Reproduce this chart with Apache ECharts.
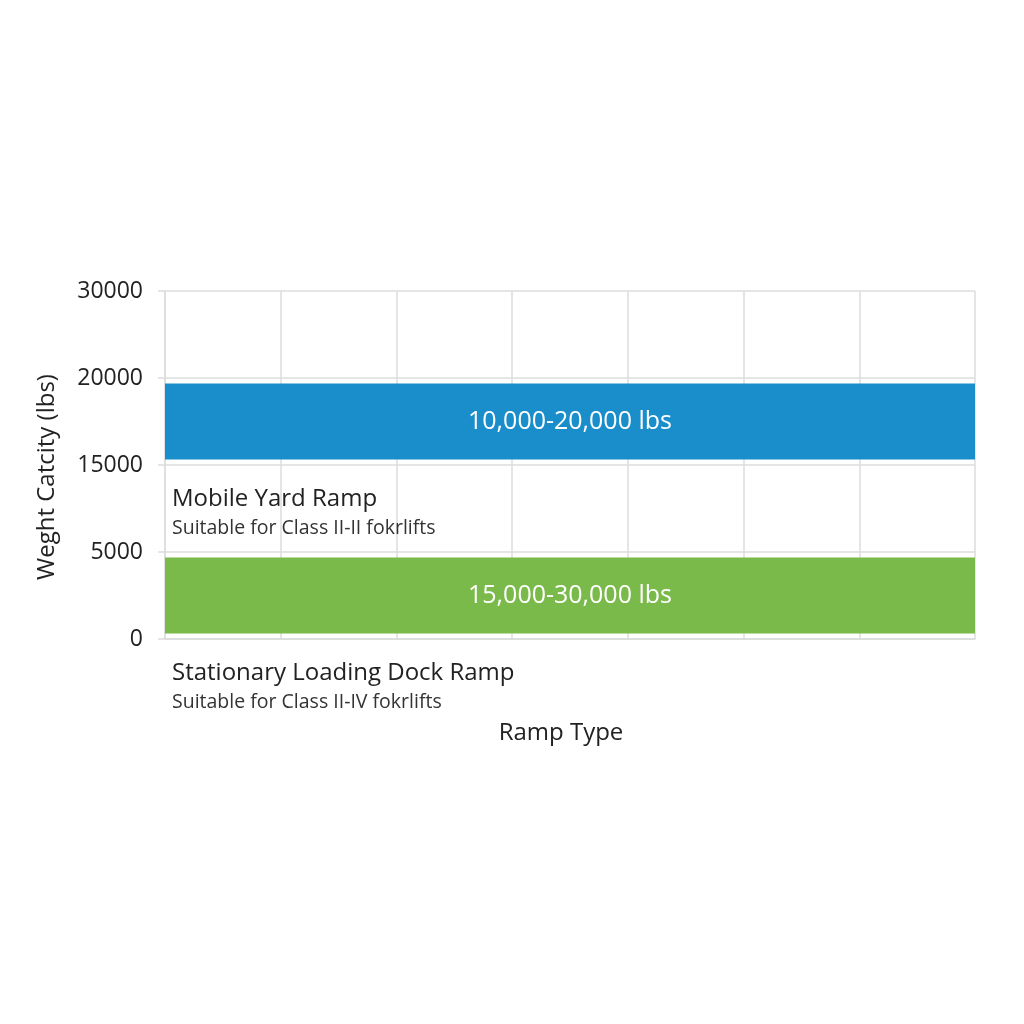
<!DOCTYPE html>
<html>
<head>
<meta charset="utf-8">
<script src="https://cdn.jsdelivr.net/npm/echarts@6/dist/echarts.min.js"></script>
<style>
  html, body { margin: 0; padding: 0; background: #fff; }
  #main { width: 1024px; height: 1024px; }
</style>
</head>
<body>
<div id="main"></div>
<script>
// tick labels on the weight axis (evenly spaced, as drawn)
var tickLabels = ['0', '5000', '15000', '20000', '30000'];
// bands between the ticks, bars sit in some of them
var bands = ['b0', 'b1', 'b2', 'b3'];

var ramps = ['Stationary Loading Dock Ramp', 'Mobile Yard Ramp'];
var rampNotes = ['Suitable for Class II-IV fokrlifts', 'Suitable for Class II-II fokrlifts'];
var capacityText = ['15,000-30,000 lbs', '10,000-20,000 lbs'];
var rampBand = [0, 2];
var barSpan = [7, 7];
var barColors = ['#7aba4a', '#1a8dcb'];

var textColor = '#222';
var gridColor = '#dcdcdc';
var fontFamily = '"Open Sans", "Noto Sans", sans-serif';

var barData = [];
var labelData = [];
for (var i = 0; i < bands.length; i++) {
    barData.push('-');
    labelData.push('-');
}
for (var j = 0; j < ramps.length; j++) {
    var b = rampBand[j];
    barData[b] = {
        value: barSpan[j],
        itemStyle: { color: barColors[j] },
        label: { formatter: capacityText[j] }
    };
    labelData[b] = {
        value: barSpan[j],
        label: { formatter: '{t|' + ramps[j] + '}\n{s|' + rampNotes[j] + '}' }
    };
}

var myChart = echarts.init(document.getElementById('main'));
var option = {
    backgroundColor: '#fff',
    textStyle: { fontFamily: fontFamily },
    grid: { left: 165, right: 49, top: 291, bottom: 385 },
    xAxis: {
        type: 'value',
        min: 0,
        max: 7,
        interval: 1,
        name: 'Ramp Type',
        nameLocation: 'middle',
        nameGap: 82,
        nameTextStyle: { fontSize: 24, color: textColor, fontFamily: fontFamily, padding: [0, 18, 0, 0] },
        axisLabel: { show: false },
        axisTick: { show: false },
        axisLine: { show: true, lineStyle: { color: gridColor, width: 1.5 } },
        splitLine: { show: true, lineStyle: { color: gridColor, width: 1.5 } }
    },
    yAxis: [{
        type: 'category',
        boundaryGap: false,
        data: tickLabels,
        name: 'Weght Catcity (lbs)',
        nameLocation: 'middle',
        nameGap: 106,
        nameTextStyle: { fontSize: 24, color: textColor, fontFamily: fontFamily, padding: [0, 24, 0, 0] },
        axisLabel: { fontSize: 23, color: textColor, margin: 22, fontFamily: fontFamily },
        axisTick: { show: true, length: 7, lineStyle: { color: gridColor, width: 1.5 } },
        axisLine: { show: true, lineStyle: { color: gridColor, width: 1.5 } },
        splitLine: { show: true, lineStyle: { color: gridColor, width: 1.5 } }
    }, {
        type: 'category',
        data: bands,
        show: false
    }],
    series: [{
        type: 'bar',
        yAxisIndex: 1,
        barWidth: 76,
        barGap: '-100%',
        silent: true,
        data: barData,
        label: {
            show: true,
            position: 'inside',
            color: '#fff',
            fontSize: 25,
            fontFamily: fontFamily
        }
    }, {
        type: 'bar',
        yAxisIndex: 1,
        barWidth: 76,
        barGap: '-100%',
        silent: true,
        itemStyle: { color: 'rgba(0,0,0,0)' },
        data: labelData,
        label: {
            show: true,
            position: [7, 102],
            align: 'left',
            verticalAlign: 'top',
            rich: {
                t: { fontSize: 24, color: textColor, lineHeight: 28, fontFamily: fontFamily },
                s: { fontSize: 19.5, color: '#333', lineHeight: 30, fontFamily: fontFamily }
            }
        }
    }]
};
myChart.setOption(option);
</script>
</body>
</html>
